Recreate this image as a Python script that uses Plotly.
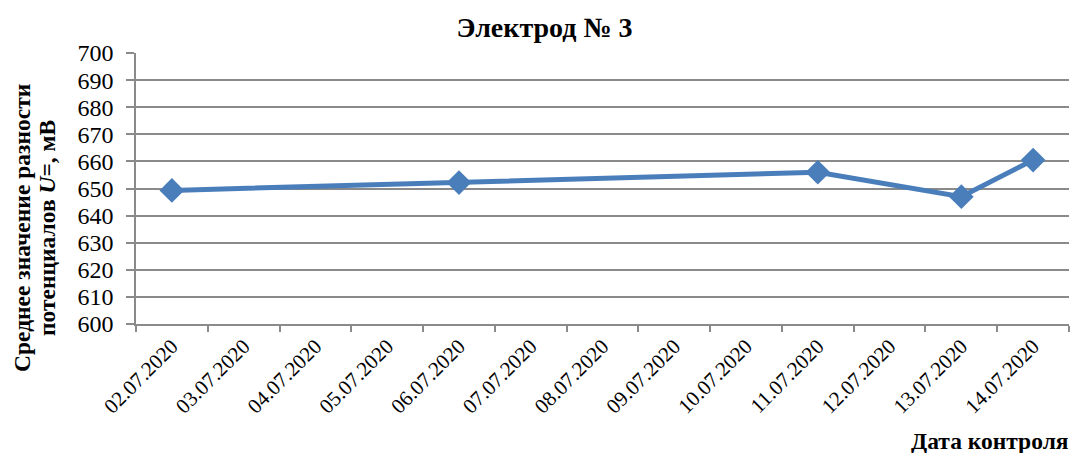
import plotly.graph_objects as go

# Control dates shown on the category axis
dates = ["02.07.2020", "03.07.2020", "04.07.2020", "05.07.2020", "06.07.2020",
         "07.07.2020", "08.07.2020", "09.07.2020", "10.07.2020", "11.07.2020",
         "12.07.2020", "13.07.2020", "14.07.2020"]

# Measurement dates and mean potential difference, mV
meas_dates = ["02.07.2020", "06.07.2020", "11.07.2020", "13.07.2020", "14.07.2020"]
mean_u = [649.3, 652.2, 656.0, 647.0, 660.5]

y_ticks = list(range(600, 701, 10))

W, H = 1072, 453
L, R, T, B = 136, 3, 53, 129
pw, ph = W - L - R, H - T - B

serif = "Liberation Serif"
blue = "#4a7ebb"
grid = "#8a8a8a"


def px_x(p):
    return (p - L) / pw


def px_y(p):
    return (T + ph - p) / ph


fig = go.Figure()
fig.add_trace(go.Scatter(
    x=meas_dates, y=mean_u, mode="lines+markers",
    line=dict(color=blue, width=5),
    marker=dict(symbol="diamond", size=19, color=blue),
    showlegend=False, hoverinfo="x+y",
))

yfont = dict(family=serif, size=23.5, color="black")

fig.update_layout(
    width=W, height=H,
    margin=dict(l=L, r=R, t=T, b=B),
    paper_bgcolor="white", plot_bgcolor="white",
    font=dict(family=serif, color="black"),
    title=dict(text="<b>Электрод № 3</b>", x=0.508, xanchor="center",
               y=1 - 27 / H, yanchor="middle",
               font=dict(family=serif, size=28, color="black")),
    xaxis=dict(
        type="category", categoryorder="array", categoryarray=dates,
        tickvals=dates, range=[-0.5, len(dates) - 0.5],
        tickson="boundaries", ticks="outside", ticklen=6, tickcolor=grid,
        tickwidth=1.5, showline=True, linecolor=grid, linewidth=1.5,
        showgrid=False, tickangle=-45,
        tickfont=dict(family=serif, size=21, color="black"),
    ),
    yaxis=dict(
        range=[600, 700], tickvals=y_ticks, ticks="outside", ticklen=8,
        ticklabelstandoff=8,
        tickcolor=grid, tickwidth=1.5, showline=True, linecolor=grid,
        linewidth=1.5, showgrid=True, gridcolor=grid, gridwidth=1.5,
        zeroline=False, tickfont=dict(family=serif, size=24, color="black"),
    ),
    annotations=[
        dict(text="<b>Среднее значение разности</b>",
             xref="paper", yref="paper", x=px_x(22), y=px_y(228),
             xanchor="center", yanchor="middle", textangle=-90, showarrow=False,
             font=yfont),
        dict(text="<b>потенциалов <i>U</i>=, мВ</b>",
             xref="paper", yref="paper", x=px_x(47), y=px_y(228),
             xanchor="center", yanchor="middle", textangle=-90, showarrow=False,
             font=yfont),
        dict(text="<b>Дата контроля</b>",
             xref="paper", yref="paper", x=px_x(1071), y=px_y(441),
             xanchor="right", yanchor="middle", showarrow=False,
             font=yfont),
    ],
)

fig.write_html("out.html")
